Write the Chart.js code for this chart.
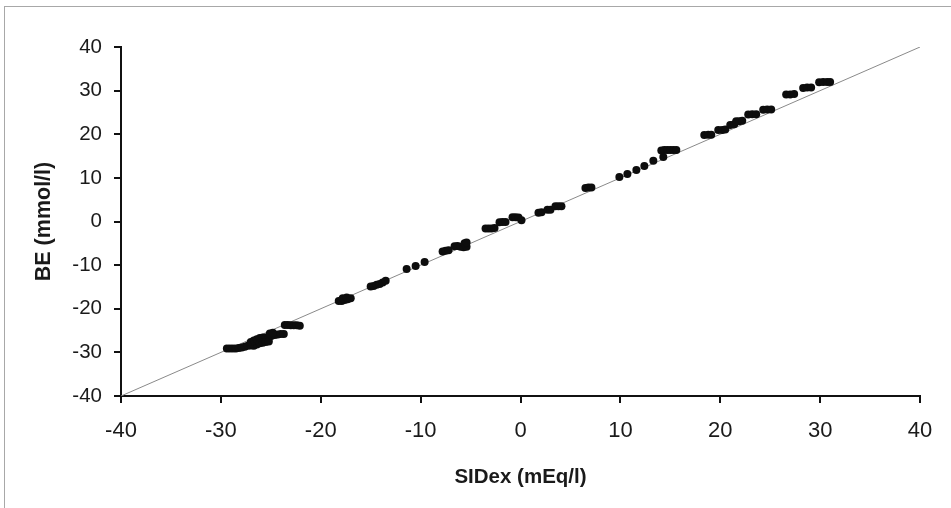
<!DOCTYPE html>
<html>
<head>
<meta charset="utf-8">
<script src="https://cdn.jsdelivr.net/npm/chart.js@4/dist/chart.umd.min.js"></script>
<style>
  html, body { margin: 0; padding: 0; background: #fff; }
  #wrap { position: relative; width: 951px; height: 508px; overflow: hidden; }
  #frame { position: absolute; left: 4px; top: 6px; width: 980px; height: 540px; border: 1px solid #a8a8a8; box-sizing: border-box; }
  #chart { position: absolute; left: 0; top: 0; }
</style>
</head>
<body>
<div id="wrap">
  <div id="frame"></div>
  <canvas id="chart" width="951" height="508"></canvas>
</div>
<script>
// ===== Data =====
const sidex = [
  -29.4, -29.1, -28.8, -28.5, -28.2, -27.9, -27.6, -27.3, -27.0, -26.7, -26.4,
  -27.0, -26.7, -26.4, -26.1, -25.8, -25.5, -25.2, -26.1, -25.8, -25.5, -25.2,
  -24.9, -24.6, -24.3, -24.0, -23.7, -25.1, -24.8,
  -23.6, -23.3, -23.0, -22.7, -22.4, -22.1,
  -18.2, -17.9, -17.6, -17.3, -17.0, -17.8, -17.4,
  -15.0, -14.7, -14.4, -14.1, -13.8, -13.5,
  -11.4, -10.5, -9.6,
  -7.8, -7.5, -7.2,
  -6.6, -6.3, -6.0, -5.7, -5.4, -5.6, -5.4,
  -3.5, -3.2, -2.9, -2.6,
  -2.1, -1.8, -1.5,
  -0.8, -0.5, -0.2, 0.1,
  1.8, 2.1, 2.7, 3.0, 3.5, 3.8, 4.1,
  6.5, 6.8, 7.1,
  9.9, 10.7, 11.6, 12.4, 13.3, 14.3,
  14.1, 14.4, 14.7, 15.0, 15.3, 15.6,
  18.4, 18.8, 19.1,
  19.8, 20.2, 20.5,
  21.0, 21.4, 21.6, 21.9, 22.2,
  22.8, 23.2, 23.6,
  24.3, 24.7, 25.1,
  26.6, 27.0, 27.4,
  28.3, 28.7, 29.1,
  29.9, 30.3, 30.7, 31.0
];
const be = [
  -29.1, -29.1, -29.1, -29.1, -29.0, -28.9, -28.7, -28.5, -28.4, -28.5, -28.2,
  -27.6, -27.3, -27.0, -26.7, -26.6, -26.6, -26.7, -27.9, -27.8, -27.6, -27.5,
  -26.2, -26.0, -25.9, -25.8, -25.8, -25.7, -25.5,
  -23.7, -23.7, -23.8, -23.8, -23.8, -23.9,
  -18.2, -18.2, -18.0, -17.8, -17.6, -17.6, -17.4,
  -14.9, -14.8, -14.5, -14.3, -14.0, -13.6,
  -10.9, -10.2, -9.3,
  -6.9, -6.7, -6.6,
  -5.7, -5.6, -5.8, -5.9, -5.8, -5.0, -4.8,
  -1.6, -1.6, -1.6, -1.5,
  -0.2, -0.1, -0.1,
  1.0, 1.0, 0.9, 0.3,
  2.0, 2.1, 2.7, 2.7, 3.5, 3.5, 3.5,
  7.7, 7.8, 7.8,
  10.2, 10.9, 11.8, 12.7, 13.9, 14.8,
  16.3, 16.4, 16.4, 16.4, 16.4, 16.4,
  19.8, 19.9, 19.9,
  21.0, 21.0, 21.1,
  22.1, 22.3, 23.0, 23.0, 23.1,
  24.5, 24.6, 24.6,
  25.6, 25.7, 25.7,
  29.1, 29.1, 29.2,
  30.6, 30.7, 30.7,
  31.9, 32.0, 32.0, 32.0
];

// line of identity, BE = SIDex
const identityX = [-40, 40];
const identityY = [-40, 40];

const axisMin = -40;
const axisMax = 40;
const axisStep = 10;

const points = sidex.map((x, i) => ({ x: x, y: be[i] }));
const identity = identityX.map((x, i) => ({ x: x, y: identityY[i] }));

// ===== Chart setup =====
const ctx = document.getElementById('chart').getContext('2d');

const chart = new Chart(ctx, {
  type: 'scatter',
  data: {
    datasets: [
      {
        label: 'BE vs SIDex',
        data: points,
        backgroundColor: '#0d0d0d',
        borderColor: '#0d0d0d',
        borderWidth: 0,
        pointRadius: 4
      },
      {
        label: 'identity',
        data: identity,
        showLine: true,
        borderColor: '#8a8a8a',
        borderWidth: 1,
        pointRadius: 0
      }
    ]
  },
  options: {
    responsive: false,
    animation: false,
    events: [],
    layout: { padding: { left: 0, top: 47, right: 31, bottom: 0 } },
    plugins: { legend: { display: false }, tooltip: { enabled: false } },
    scales: {
      x: {
        type: 'linear',
        min: axisMin, max: axisMax,
        afterFit: (scale) => { scale.height = 112; },
        ticks: {
          stepSize: axisStep,
          color: '#1a1a1a',
          padding: 15,
          maxRotation: 0,
          font: { family: '"Liberation Sans Narrow", "Liberation Sans", Arial, sans-serif', size: 22 }
        },
        grid: { display: true, drawOnChartArea: false, drawTicks: true, tickLength: 7, color: '#111', lineWidth: 2 },
        border: { display: true, color: '#111', width: 2 },
        title: {
          display: true,
          text: 'SIDex (mEq/l)',
          color: '#1a1a1a',
          padding: { top: 0, bottom: 18 },
          font: { family: '"Liberation Sans", Arial, sans-serif', size: 20.5, weight: 'bold' }
        }
      },
      y: {
        type: 'linear',
        min: axisMin, max: axisMax,
        afterFit: (scale) => { scale.width = 121; },
        ticks: {
          stepSize: axisStep,
          color: '#1a1a1a',
          padding: 12,
          font: { family: '"Liberation Sans", Arial, sans-serif', size: 20.5 }
        },
        grid: { display: true, drawOnChartArea: false, drawTicks: true, tickLength: 7, color: '#111', lineWidth: 2 },
        border: { display: true, color: '#111', width: 2 },
        title: {
          display: true,
          text: 'BE (mmol/l)',
          color: '#1a1a1a',
          padding: { top: 31, bottom: 0 },
          font: { family: '"Liberation Sans", Arial, sans-serif', size: 21.5, weight: 'bold' }
        }
      }
    }
  }
});
</script>
</body>
</html>
